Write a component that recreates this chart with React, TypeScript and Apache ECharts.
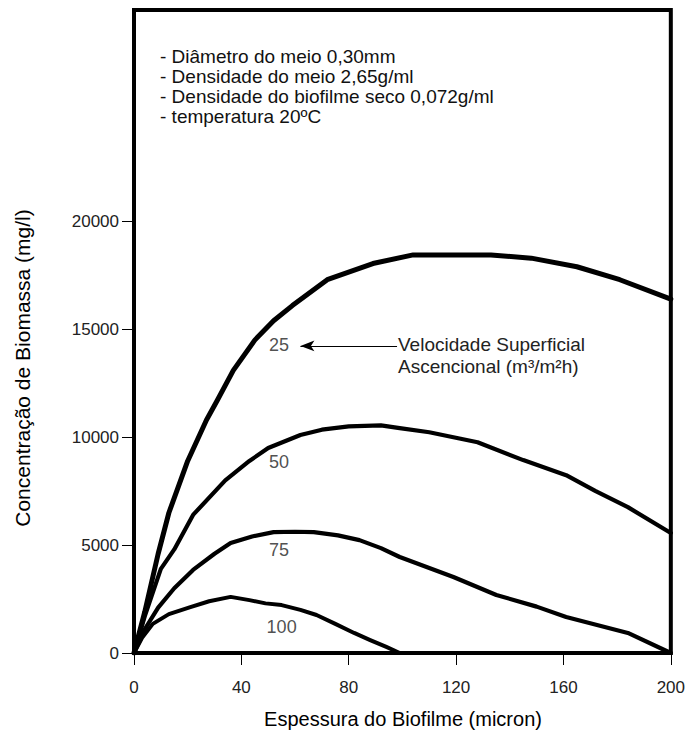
import React, { useEffect, useRef } from "react";
import * as echarts from "echarts";

// Biofilm thickness (micron) vs biomass concentration (mg/l), one curve per upflow velocity
const curve25: [number, number][] = [
  [0, 0], [4, 1900], [9, 4600], [13, 6500], [20, 8900], [27, 10800], [31, 11700],
  [37, 13100], [45, 14500], [52, 15400], [59, 16100], [72, 17300], [89, 18050],
  [104, 18450], [133, 18450], [148, 18300], [165, 17900], [181, 17300], [200, 16400],
];
const curve50: [number, number][] = [
  [0, 0], [4, 1700], [10, 3900], [15, 4800], [22, 6400], [34, 8000], [43, 8900],
  [50, 9500], [62, 10100], [70, 10350], [80, 10500], [92, 10550], [99, 10420],
  [110, 10230], [128, 9770], [145, 8940], [161, 8240], [172, 7500], [184, 6760], [200, 5560],
];
const curve75: [number, number][] = [
  [0, 0], [4, 1100], [9, 2100], [15, 3000], [22, 3850], [30, 4600], [36, 5100],
  [44, 5400], [52, 5600], [60, 5620], [67, 5600], [76, 5450], [84, 5230], [92, 4860],
  [99, 4450], [119, 3520], [135, 2690], [150, 2150], [161, 1670], [184, 930], [200, 0],
];
const curve100: [number, number][] = [
  [0, 0], [3, 700], [7, 1350], [13, 1800], [21, 2130], [28, 2400], [36, 2600],
  [43, 2450], [49, 2300], [55, 2220], [62, 2000], [68, 1760], [75, 1350], [82, 930],
  [88, 600], [94, 280], [99, 0],
];

// Velocity labels placed beside each curve
const velocityLabels: [number, number, string][] = [
  [54, 14260, "25"],
  [54, 8840, "50"],
  [54, 4770, "75"],
  [55, 1200, "100"],
];

// Arrow pointing at the "25" label
const arrowFrom: [number, number] = [98, 14230];
const arrowTo: [number, number] = [62, 14230];

const yTickValues = [0, 5000, 10000, 15000, 20000];
const xMin = 0;
const xMax = 200;
const xStep = 40;
const yMax = 29800;

const notes = [
  "- Diâmetro do meio 0,30mm",
  "- Densidade do meio 2,65g/ml",
  "- Densidade do biofilme seco 0,072g/ml",
  "- temperatura 20ºC",
];

const xTitle = "Espessura do Biofilme (micron)";
const yTitle = "Concentração de Biomassa (mg/l)";
const arrowText = "Velocidade Superficial\nAscencional (m³/m²h)";

const FONT = "'Liberation Sans', Arial, sans-serif";

export default function App() {
  const ref = useRef<HTMLDivElement>(null);

  useEffect(() => {
    if (!ref.current) return;
    const chart = echarts.init(ref.current, null, { renderer: "svg" });

    const curve = (name: string, data: [number, number][], width: number) => ({
      name,
      type: "line",
      data,
      showSymbol: false,
      symbol: "none",
      smooth: false,
      silent: true,
      lineStyle: { color: "#000", width, join: "round", cap: "round" },
      z: 3,
    });

    chart.setOption({
      animation: false,
      backgroundColor: "#fff",
      textStyle: { fontFamily: FONT },
      grid: {
        left: 134,
        right: 16,
        top: 10,
        bottom: 81,
        show: true,
        borderColor: "#000",
        borderWidth: 4,
        backgroundColor: "transparent",
        containLabel: false,
      },
      xAxis: {
        type: "value",
        min: xMin,
        max: xMax,
        interval: xStep,
        axisLine: { show: false },
        axisTick: { show: true, inside: false, length: 12, lineStyle: { color: "#000", width: 1 } },
        axisLabel: { margin: 26, fontSize: 17, color: "#222", fontFamily: FONT },
        splitLine: { show: false },
      },
      yAxis: {
        type: "value",
        min: 0,
        max: yMax,
        axisLine: { show: false },
        axisTick: {
          show: true,
          inside: false,
          length: 12,
          customValues: yTickValues,
          lineStyle: { color: "#000", width: 1 },
        },
        axisLabel: {
          margin: 15,
          fontSize: 17,
          color: "#222",
          fontFamily: FONT,
          customValues: yTickValues,
          formatter: (v: number) => String(v),
        },
        splitLine: { show: false },
      },
      series: [
        curve("25", curve25, 5),
        curve("50", curve50, 4.2),
        curve("75", curve75, 4.2),
        curve("100", curve100, 4),
        {
          name: "labels",
          type: "scatter",
          data: velocityLabels,
          symbolSize: 0,
          silent: true,
          label: {
            show: true,
            position: "inside",
            formatter: (p: any) => p.value[2],
            fontSize: 18,
            color: "#222",
            fontFamily: FONT,
          },
          markLine: {
            silent: true,
            symbol: ["none", "arrow"],
            symbolSize: [8, 14],
            label: { show: false },
            lineStyle: { color: "#000", width: 1.2, type: "solid" },
            data: [[{ coord: arrowFrom }, { coord: arrowTo }]],
          },
        },
      ],
      graphic: [
        ...notes.map((t, i) => ({
          type: "text",
          left: 160,
          top: 47 + i * 20,
          silent: true,
          style: { text: t, fontSize: 19, fill: "#111", fontFamily: FONT },
        })),
        {
          type: "text",
          left: 398,
          top: 333,
          silent: true,
          style: { text: arrowText, fontSize: 19, lineHeight: 22, fill: "#222", fontFamily: FONT },
        },
        {
          type: "text",
          x: 403,
          y: 719,
          silent: true,
          style: {
            text: xTitle,
            fontSize: 20,
            fill: "#000",
            fontFamily: FONT,
            align: "center",
            verticalAlign: "middle",
          },
        },
        {
          type: "text",
          x: 22,
          y: 368,
          rotation: Math.PI / 2,
          silent: true,
          style: {
            text: yTitle,
            fontSize: 21,
            fill: "#000",
            fontFamily: FONT,
            align: "center",
            verticalAlign: "middle",
          },
        },
      ],
    });

    return () => chart.dispose();
  }, []);

  return <div ref={ref} style={{ width: 688, height: 734, position: "absolute", left: 0, top: 0 }} />;
}
